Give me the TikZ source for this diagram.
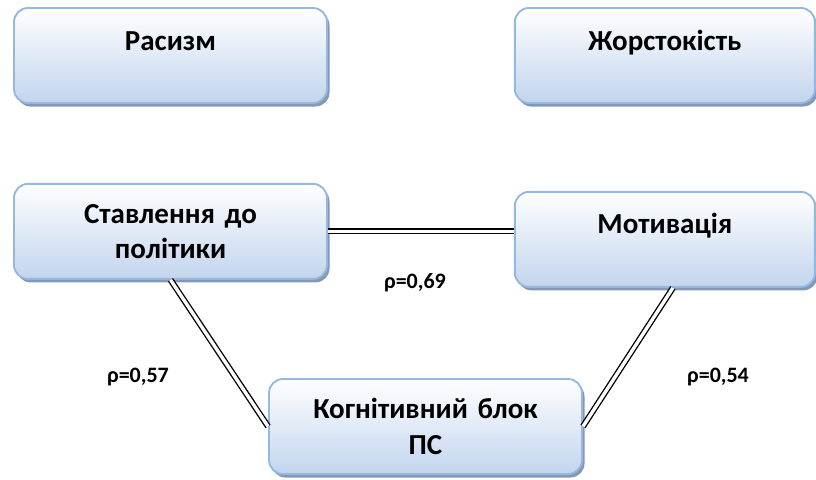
\documentclass[tikz,border=0pt]{standalone}
\usepackage{fontspec}
\setmainfont{Carlito}
\usetikzlibrary{positioning, shadows}
\definecolor{boxblue}{RGB}{194,213,238}
\definecolor{edgeblue}{RGB}{149,184,224}
\definecolor{shadowblue}{RGB}{132,152,182}

\begin{document}
\begin{tikzpicture}
    % Define styles
    \tikzstyle{block} = [rectangle, rounded corners=14pt, draw=edgeblue,
                          line width=1.9pt, top color=white, bottom color=boxblue,
                          drop shadow={shadow xshift=2.5pt, shadow yshift=-3.5pt,
                          fill=shadowblue, opacity=1},
                          text width=290pt, align=center, minimum width=313pt,
                          minimum height=95pt, font=\fontsize{29pt}{35.5pt}\bfseries]
    \tikzstyle{oneline} = [text height=18pt, text depth=29pt]
    \tikzstyle{link} = [draw=black, line width=1.35pt, double=white, double distance=3.4pt]
    \tikzstyle{coef} = [font=\fontsize{22pt}{26pt}\bfseries]

    \useasboundingbox (0,0) rectangle (816pt,-479pt);

    % Create blocks
    \node[block, oneline] (rasyzm) at (170.5pt,-55.5pt) {Расизм};
    \node[block, oneline, minimum width=300pt, right=186pt of rasyzm] (zhorst) {Жорстокість};

    \node[block, below=79pt of rasyzm] (stavl) {Ставлення до\\політики};
    \node[block, oneline, minimum width=300pt, right=186pt of stavl, yshift=-8pt] (motyv) {Мотивація};

    \node[block] (kogn) at (425.5pt,-426.5pt) {Когнітивний блок\\ПС};

    % Draw links
    \draw[link] (stavl.east) -- (stavl.east -| motyv.west);
    \draw[link] (stavl.south) -- (kogn.west);
    \draw[link] ([xshift=8pt]motyv.south) -- (kogn.east);

    % Coefficients
    \node[coef] (r69) at (415pt,-283pt) {ρ=0,69};
    \node[coef] (r57) at (138pt,-377pt) {ρ=0,57};
    \node[coef] (r54) at (718pt,-377pt) {ρ=0,54};
\end{tikzpicture}
\end{document}
